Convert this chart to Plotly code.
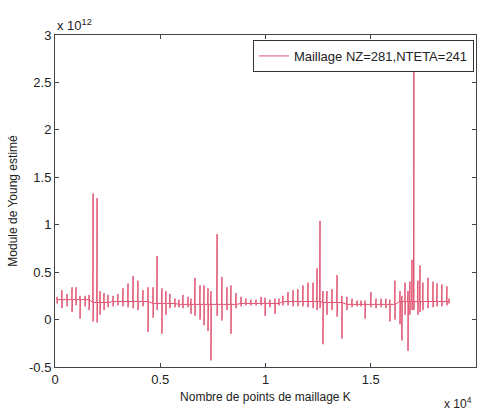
import plotly.graph_objects as go

# Mesh point index K (in units of 10^4) where each spike occurs
k_e4 = [0.010, 0.033, 0.057, 0.081, 0.100, 0.119, 0.143, 0.162, 0.181, 0.200,
        0.214, 0.233, 0.252, 0.276, 0.299, 0.323, 0.347, 0.371, 0.394, 0.418,
        0.442, 0.466, 0.485, 0.508, 0.527, 0.546, 0.570, 0.589, 0.608, 0.632,
        0.646, 0.665, 0.689, 0.708, 0.727, 0.741, 0.770, 0.793, 0.817, 0.836,
        0.860, 0.884, 0.907, 0.931, 0.955, 0.979, 0.998, 1.021, 1.045, 1.064,
        1.083, 1.107, 1.131, 1.154, 1.178, 1.202, 1.226, 1.245, 1.259, 1.273,
        1.292, 1.316, 1.340, 1.363, 1.387, 1.411, 1.435, 1.454, 1.473, 1.501,
        1.525, 1.549, 1.572, 1.591, 1.615, 1.639, 1.648, 1.663, 1.677, 1.686,
        1.696, 1.705, 1.724, 1.734, 1.748, 1.772, 1.796, 1.815, 1.838, 1.862,
        1.872]

# Estimated Young modulus (units of 10^12): spike maxima
young_hi_e12 = [0.24, 0.31, 0.27, 0.34, 0.34, 0.25, 0.25, 0.26, 1.33, 1.28,
                0.30, 0.28, 0.26, 0.25, 0.27, 0.33, 0.38, 0.46, 0.41, 0.31,
                0.34, 0.34, 0.67, 0.33, 0.30, 0.27, 0.22, 0.21, 0.26, 0.24,
                0.22, 0.44, 0.36, 0.36, 0.33, 0.30, 0.90, 0.45, 0.34, 0.36,
                0.28, 0.24, 0.22, 0.21, 0.21, 0.24, 0.23, 0.21, 0.22, 0.22,
                0.25, 0.29, 0.31, 0.32, 0.36, 0.39, 0.39, 0.54, 1.04, 0.30,
                0.30, 0.32, 0.47, 0.25, 0.24, 0.22, 0.20, 0.20, 0.20, 0.29,
                0.22, 0.22, 0.22, 0.21, 0.41, 0.30, 0.25, 0.39, 0.30, 0.40,
                0.63, 2.85, 0.41, 0.57, 0.39, 0.44, 0.40, 0.38, 0.37, 0.35,
                0.22]

# spike minima
young_lo_e12 = [0.17, 0.12, 0.14, 0.08, 0.15, 0.01, 0.14, 0.10, -0.02, -0.03,
                0.05, 0.10, 0.13, 0.14, 0.15, 0.14, 0.13, 0.12, 0.10, 0.14,
                -0.13, 0.02, 0.10, -0.15, 0.05, 0.12, 0.13, 0.13, 0.12, 0.13,
                0.06, 0.04, 0.00, -0.06, -0.12, -0.43, 0.04, -0.01, 0.10, -0.15,
                0.12, 0.14, 0.15, 0.15, 0.15, 0.15, 0.04, 0.13, 0.06, 0.15,
                0.15, 0.15, 0.14, 0.14, 0.14, 0.13, 0.12, 0.10, 0.12, -0.26,
                0.05, 0.10, 0.03, -0.20, 0.10, 0.13, 0.14, 0.14, 0.01, 0.13,
                0.12, 0.13, 0.12, -0.02, 0.00, -0.05, -0.22, 0.05, -0.33, 0.05,
                0.10, 0.10, 0.05, 0.08, 0.10, 0.12, 0.13, 0.14, 0.14, 0.15,
                0.17]

# baseline level around each spike
young_base_e12 = [0.21, 0.21, 0.21, 0.21, 0.21, 0.21, 0.21, 0.21, 0.18, 0.18,
                  0.18, 0.18, 0.18, 0.19, 0.19, 0.19, 0.19, 0.19, 0.19, 0.19,
                  0.19, 0.17, 0.17, 0.17, 0.17, 0.17, 0.17, 0.16, 0.16, 0.16,
                  0.16, 0.16, 0.16, 0.16, 0.16, 0.16, 0.16, 0.16, 0.16, 0.16,
                  0.16, 0.17, 0.17, 0.17, 0.17, 0.17, 0.17, 0.17, 0.17, 0.17,
                  0.19, 0.19, 0.19, 0.19, 0.19, 0.19, 0.19, 0.19, 0.19, 0.18,
                  0.18, 0.18, 0.18, 0.18, 0.16, 0.16, 0.16, 0.16, 0.16, 0.16,
                  0.16, 0.16, 0.16, 0.16, 0.16, 0.19, 0.19, 0.19, 0.19, 0.19,
                  0.19, 0.19, 0.19, 0.19, 0.19, 0.19, 0.19, 0.19, 0.19, 0.19,
                  0.19]

x_ticks = [0, 0.5, 1, 1.5, 2]
x_tick_labels = ["0", "0.5", "1", "1.5", "2"]
y_ticks = [-0.5, 0, 0.5, 1, 1.5, 2, 2.5, 3]
y_tick_labels = ["-0.5", "0", "0.5", "1", "1.5", "2", "2.5", "3"]

# build the spiky trace path from the read values
half = 0.0015
xs, ys = [], []
for k, hi, lo, b in zip(k_e4, young_hi_e12, young_lo_e12, young_base_e12):
    xs += [k - half, k, k, k + half]
    ys += [b, hi, lo, b]

FONT = "Liberation Sans, Arial, sans-serif"
fig = go.Figure()
fig.add_trace(go.Scatter(x=xs, y=ys, mode="lines",
                         line=dict(color="#e0506e", width=1),
                         name="Maillage NZ=281,NTETA=241"))

axis_common = dict(showgrid=False, zeroline=False, showline=True,
                   linecolor="#444", linewidth=1, mirror="allticks",
                   ticks="inside", ticklen=4, tickcolor="#444",
                   tickfont=dict(family=FONT, size=13, color="#222"))

fig.update_xaxes(range=[0, 2], tickvals=x_ticks, ticktext=x_tick_labels,
                 title=dict(text="Nombre de points de maillage K",
                            font=dict(family=FONT, size=12, color="#222"),
                            standoff=7),
                 **axis_common)
fig.update_yaxes(range=[-0.5, 3], tickvals=y_ticks, ticktext=y_tick_labels,
                 title=dict(text="Module de Young estimé",
                            font=dict(family=FONT, size=12, color="#222"),
                            standoff=8),
                 **axis_common)

fig.add_annotation(text="x 10<sup>12</sup>", xref="paper", yref="paper",
                   x=0.0, y=1.0, xanchor="left", yanchor="bottom",
                   showarrow=False, font=dict(family=FONT, size=13, color="#222"))
fig.add_annotation(text="x 10<sup>4</sup>", xref="paper", yref="paper",
                   x=0.995, y=-0.138, xanchor="right", yanchor="bottom",
                   showarrow=False, font=dict(family=FONT, size=12, color="#222"))

fig.update_layout(
    width=477, height=415,
    margin=dict(l=55, r=1, t=35, b=48),
    paper_bgcolor="white", plot_bgcolor="white",
    showlegend=True,
    legend=dict(x=0.995, y=0.985, xanchor="right", yanchor="top",
                bgcolor="white", bordercolor="#333", borderwidth=1,
                font=dict(family=FONT, size=13, color="#222"),
                itemwidth=30, tracegroupgap=0),
)

fig.write_html("out.html")
